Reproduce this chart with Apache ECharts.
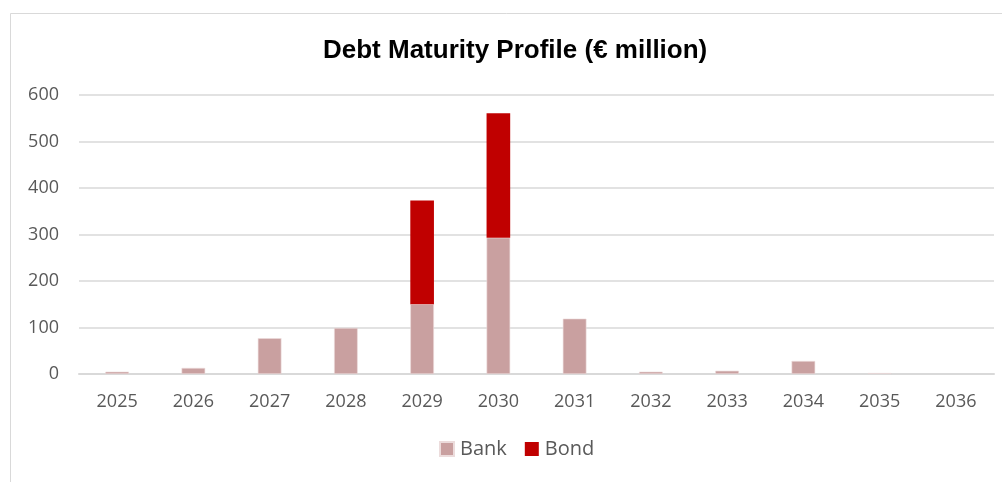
<!DOCTYPE html>
<html><head><meta charset="utf-8">
<script src="https://cdn.jsdelivr.net/npm/echarts@6/dist/echarts.min.js"></script>
<style>html,body{margin:0;padding:0;background:#fff}#c{width:1002px;height:482px}</style>
</head><body><div id="c"></div>
<script>
const categories = ['2025','2026','2027','2028','2029','2030','2031','2032','2033','2034','2035','2036'];
const bank = [5, 13, 77, 99, 150, 293, 119, 5, 7, 28, 2, 0];
const bond = [0, 0, 0, 0, 223, 268, 0, 0, 0, 0, 0, 0];
const yTicks = [0, 100, 200, 300, 400, 500, 600];

const nz = a => a.map(v => v === 0 ? null : v);
const chart = echarts.init(document.getElementById('c'), null, {renderer: 'canvas'});
const font = '"Open Sans", sans-serif';
chart.setOption({
  animation: false,
  backgroundColor: '#fff',
  graphic: [{type: 'rect', shape: {x: 10.5, y: 13.5, width: 1000, height: 480}, style: {fill: 'none', stroke: '#d9d9d9', lineWidth: 1}, silent: true}],
  title: {text: 'Debt Maturity Profile (€ million)', left: 318, top: 33,
    textStyle: {fontFamily: '"Liberation Sans", Arial, sans-serif', fontWeight: 'bold', fontSize: 26, color: '#000'}},
  legend: {bottom: 18, left: 434, itemWidth: 14, itemHeight: 14, itemGap: 18, icon: 'rect',
    textStyle: {fontFamily: font, fontSize: 20, color: '#595959', padding: [0, 0, 0, 1]}, data: ['Bank', 'Bond']},
  grid: {left: 79, right: 8, top: 95, bottom: 108, containLabel: false},
  xAxis: {type: 'category', data: categories,
    axisLine: {lineStyle: {color: '#d9d9d9', width: 2}}, axisTick: {show: false},
    axisLabel: {fontFamily: font, fontSize: 18, color: '#595959', margin: 19}},
  yAxis: {type: 'value', min: yTicks[0], max: yTicks[yTicks.length-1], interval: 100,
    axisLine: {show: false}, axisTick: {show: false},
    splitLine: {lineStyle: {color: '#d9d9d9', width: 1.5}},
    axisLabel: {fontFamily: font, fontSize: 18, color: '#595959', margin: 20}},
  series: [
    {name: 'Bank', type: 'bar', stack: 'a', data: nz(bank), barWidth: '31%',
      itemStyle: {color: '#C9A0A0', borderColor: '#ecdcdc', borderWidth: 0.6}},
    {name: 'Bond', type: 'bar', stack: 'a', data: nz(bond), barWidth: '31%',
      itemStyle: {color: '#C00000'}}
  ]
});
</script></body></html>
